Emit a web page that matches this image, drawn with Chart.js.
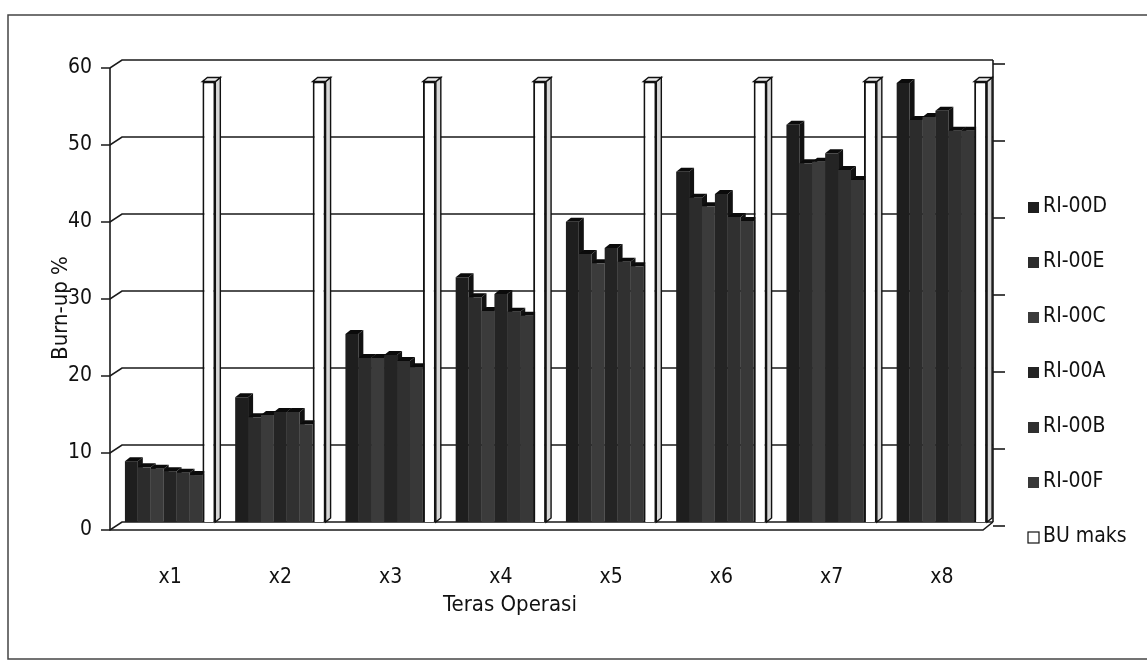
<!DOCTYPE html>
<html>
<head>
<meta charset="utf-8">
<script src="https://cdn.jsdelivr.net/npm/chart.js@4.4.1/dist/chart.umd.min.js"></script>
<style>
  html, body { margin: 0; padding: 0; background: #fff; }
  #wrap { width: 1147px; height: 661px; position: relative; }
</style>
</head>
<body>
<div id="wrap"><canvas id="burnup" width="1147" height="661"></canvas></div>
<script>
// categories (operating cores) and burn-up series
const categories = ["x1", "x2", "x3", "x4", "x5", "x6", "x7", "x8"];
const ri00D = [7.9, 16.2, 24.4, 31.8, 39.0, 45.5, 51.6, 57.0];
const ri00E = [7.1, 13.6, 21.3, 29.2, 34.8, 42.1, 46.6, 52.2];
const ri00C = [6.9, 13.9, 21.3, 27.4, 33.6, 41.0, 46.8, 52.6];
const ri00A = [6.6, 14.3, 21.7, 29.6, 35.6, 42.6, 47.9, 53.4];
const ri00B = [6.4, 14.3, 20.9, 27.3, 33.8, 39.6, 45.7, 50.8];
const ri00F = [6.1, 12.7, 20.1, 26.8, 33.2, 39.1, 44.4, 50.8];
const buMaks = [57.2, 57.2, 57.2, 57.2, 57.2, 57.2, 57.2, 57.2];
const yTicks = [0, 10, 20, 30, 40, 50, 60];

const yTitle = "Burn-up %";
const xTitle = "Teras Operasi";
const FONT = "'Liberation Sans Narrow', 'DejaVu Sans Condensed', 'Liberation Sans', sans-serif";

// 3D look: depth of the bar faces and of the walls
const DX = 5, DY = 4, WALL = 8;

const wallsPlugin = {
    id: "walls",
    beforeDraw(chart) {
        const ctx = chart.ctx;
        ctx.save();
        ctx.fillStyle = "#fff";
        ctx.fillRect(0, 0, chart.width, chart.height);
        ctx.strokeStyle = "#444";
        ctx.lineWidth = 1.5;
        ctx.strokeRect(8, 15, chart.width + 10, 644);
        ctx.restore();
    },
    beforeDatasetsDraw(chart) {
        const ctx = chart.ctx;
        const a = chart.chartArea;
        const y = chart.scales.y;
        const fx = a.left - 5, bx = a.left + 7, rx = a.right - 4;
        ctx.save();
        ctx.strokeStyle = "#1a1a1a";
        ctx.lineWidth = 1.6;
        yTicks.forEach((v) => {
            const py = y.getPixelForValue(v);
            ctx.beginPath();
            ctx.moveTo(fx - 9, py + WALL);
            ctx.lineTo(fx, py + WALL);
            ctx.lineTo(bx, py);
            ctx.lineTo(rx, py);
            ctx.stroke();
            ctx.beginPath();
            ctx.moveTo(rx, py + 4);
            ctx.lineTo(rx + 12, py + 4);
            ctx.stroke();
        });
        const top = y.getPixelForValue(60), bot = y.getPixelForValue(0);
        ctx.beginPath();
        ctx.moveTo(fx, top + WALL);
        ctx.lineTo(fx, bot + WALL);
        ctx.lineTo(rx - 10, bot + WALL);
        ctx.lineTo(rx, bot);
        ctx.stroke();
        ctx.beginPath();
        ctx.moveTo(rx, top);
        ctx.lineTo(rx, bot);
        ctx.stroke();

        // side and top faces of every bar, drawn before the fronts
        chart.data.datasets.forEach((ds, di) => {
            const meta = chart.getDatasetMeta(di);
            const white = di === chart.data.datasets.length - 1;
            meta.data.forEach((el) => {
                const p = el.getProps(["x", "y", "base", "width"], true);
                const l = p.x - p.width / 2, r = p.x + p.width / 2;
                ctx.lineWidth = white ? 1.4 : 1;
                ctx.strokeStyle = "#111";
                ctx.fillStyle = white ? "#d6d6d6" : "#121212";
                ctx.beginPath();
                ctx.moveTo(r, p.y);
                ctx.lineTo(r + DX, p.y - DY);
                ctx.lineTo(r + DX, p.base - DY);
                ctx.lineTo(r, p.base);
                ctx.closePath();
                ctx.fill();
                if (white) ctx.stroke();
                ctx.fillStyle = white ? "#ececec" : "#0b0b0b";
                ctx.beginPath();
                ctx.moveTo(l, p.y);
                ctx.lineTo(l + DX, p.y - DY);
                ctx.lineTo(r + DX, p.y - DY);
                ctx.lineTo(r, p.y);
                ctx.closePath();
                ctx.fill();
                if (white) ctx.stroke();
            });
        });
        ctx.restore();
    },
    afterDraw(chart) {
        const ctx = chart.ctx;
        ctx.save();
        ctx.fillStyle = "#111";
        ctx.font = "22px " + FONT;
        ctx.textAlign = "center";
        ctx.textBaseline = "middle";
        ctx.fillText(xTitle, 510, 605);
        ctx.translate(61, 308);
        ctx.rotate(-Math.PI / 2);
        ctx.fillText(yTitle, 0, 0);
        ctx.restore();

        // legend on the right
        ctx.save();
        ctx.font = "21px " + FONT;
        ctx.textBaseline = "middle";
        chart.data.datasets.forEach((ds, i) => {
            const cy = 207 + i * 55;
            ctx.fillStyle = ds.backgroundColor;
            ctx.fillRect(1028, cy - 5, 11, 11);
            if (ds.borderWidth) {
                ctx.strokeStyle = "#111";
                ctx.lineWidth = 1.2;
                ctx.strokeRect(1028, cy - 5, 11, 11);
            }
            ctx.fillStyle = "#111";
            ctx.fillText(ds.label, 1043, cy);
        });
        ctx.restore();
    },
};

function darkSet(label, data, color) {
    return { label: label, data: data, backgroundColor: color, borderWidth: 0 };
}

new Chart(document.getElementById("burnup"), {
    type: "bar",
    data: {
        labels: categories,
        datasets: [
            darkSet("RI-00D", ri00D, "#1e1e1e"),
            darkSet("RI-00E", ri00E, "#2c2c2c"),
            darkSet("RI-00C", ri00C, "#3b3b3b"),
            darkSet("RI-00A", ri00A, "#242424"),
            darkSet("RI-00B", ri00B, "#303030"),
            darkSet("RI-00F", ri00F, "#383838"),
            { label: "BU maks", data: buMaks, backgroundColor: "#ffffff", borderColor: "#111", borderWidth: 2 },
        ],
    },
    options: {
        responsive: false,
        animation: false,
        layout: { padding: { left: 35, top: 60, right: 150, bottom: 39 } },
        datasets: { bar: { categoryPercentage: 0.82, barPercentage: 1.0, borderSkipped: "bottom" } },
        plugins: { legend: { display: false }, tooltip: { enabled: false } },
        scales: {
            x: {
                grid: { display: false, drawTicks: false },
                border: { display: false },
                ticks: { color: "#111", padding: 43, font: { size: 21, family: FONT } },
                afterFit: (s) => { s.height = 100; },
            },
            y: {
                min: 0,
                max: 60,
                grid: { display: false, drawTicks: false },
                border: { display: false },
                ticks: { stepSize: 10, color: "#111", padding: 23, labelOffset: 8, font: { size: 21, family: FONT } },
                afterFit: (s) => { s.width = 80; },
            },
        },
    },
    plugins: [wallsPlugin],
});
</script>
</body>
</html>
